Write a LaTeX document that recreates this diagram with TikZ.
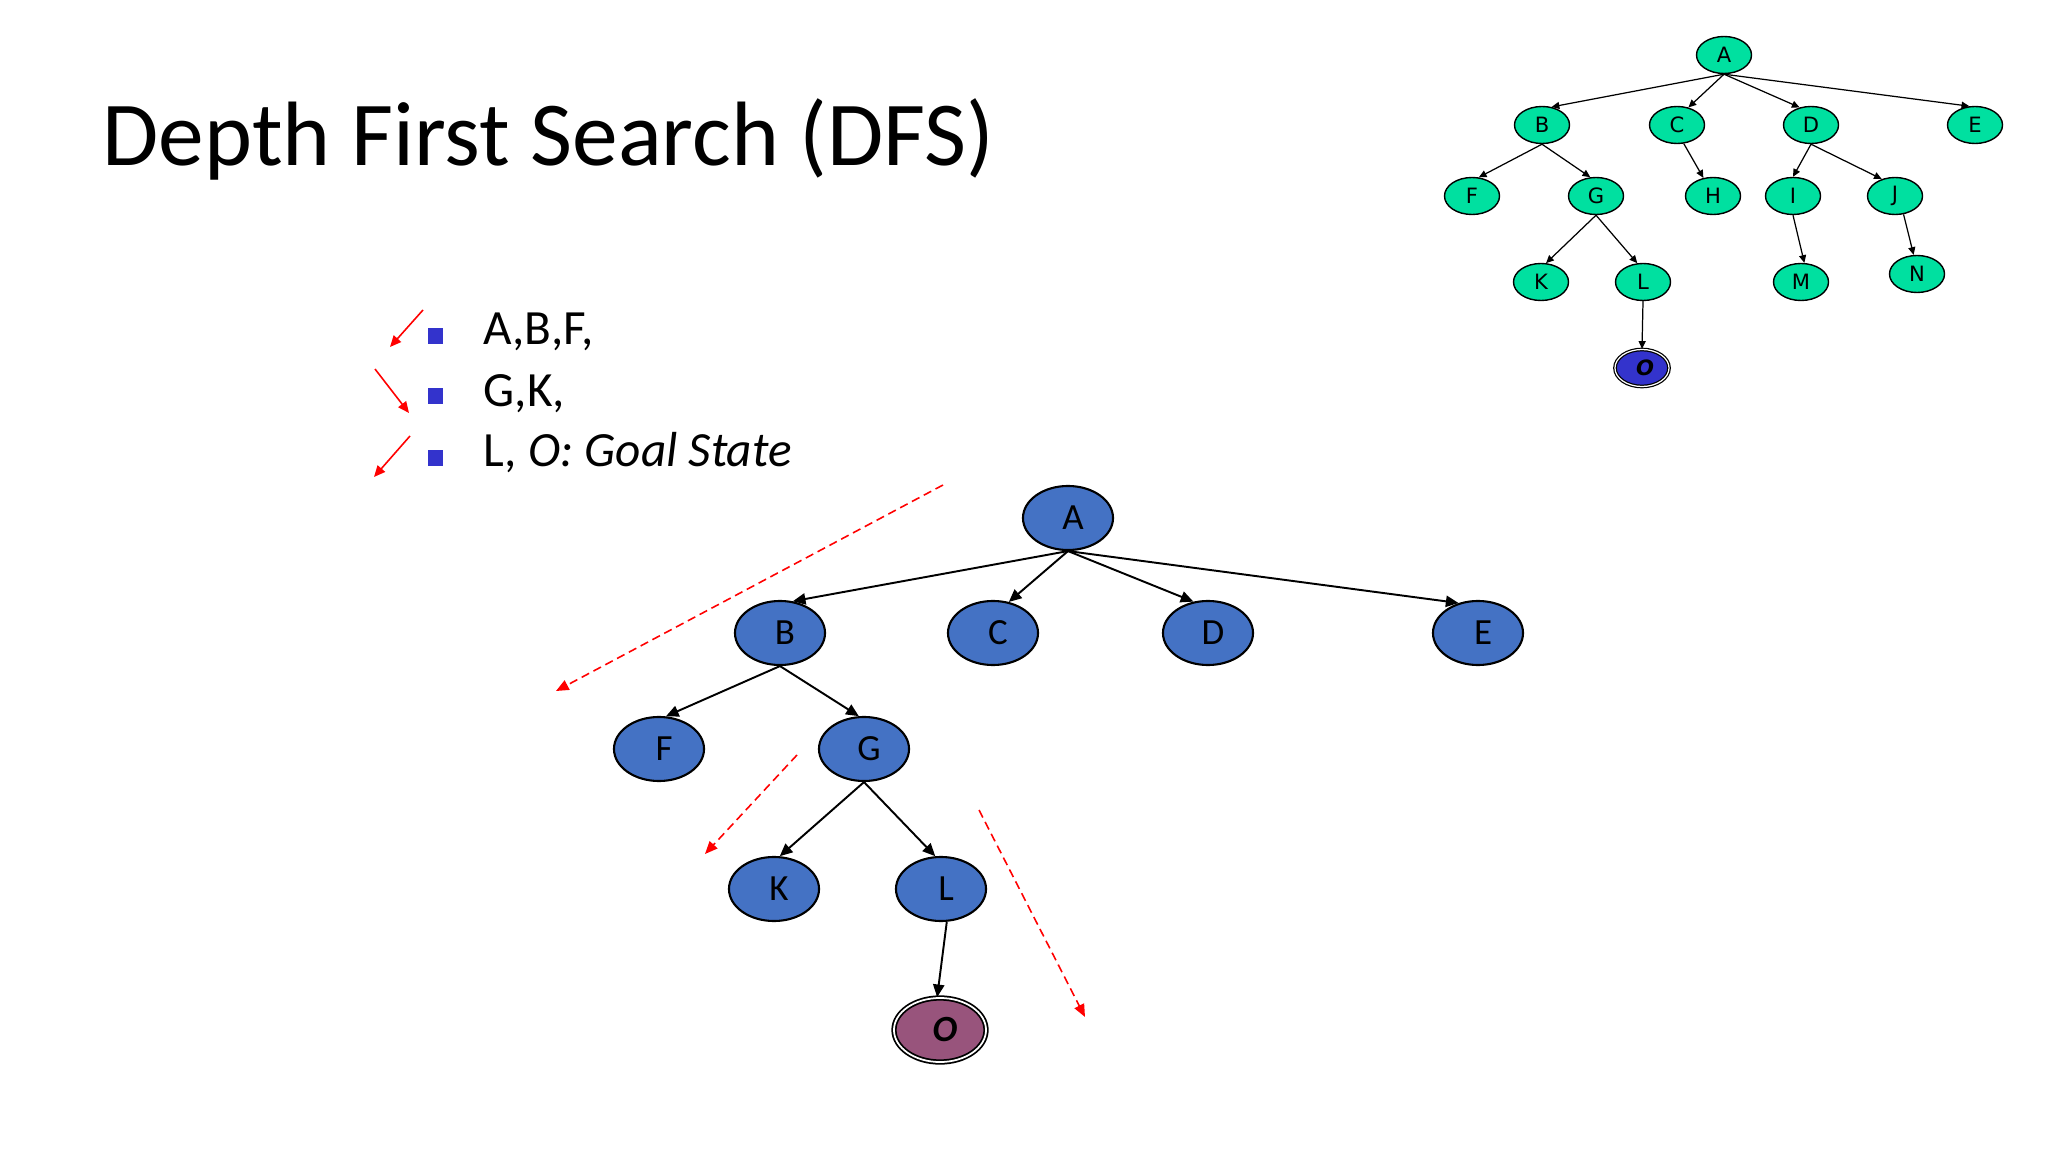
\documentclass[tikz,border=0pt]{standalone}
\usepackage{fontspec}
\setmainfont{Carlito}
\newfontfamily\treefont{DejaVu Sans}
\usetikzlibrary{arrows.meta,shapes.geometric}
\definecolor{bigblue}{RGB}{68,114,196}
\definecolor{goalpurple}{RGB}{152,84,124}
\definecolor{mint}{RGB}{0,224,160}
\definecolor{listblue}{RGB}{51,51,204}

\begin{document}
\begin{tikzpicture}[x=0.01cm,y=-0.01cm,
  bignode/.style={ellipse, draw, line width=0.6pt, fill=bigblue, inner sep=0pt,
    minimum width=0.9cm, minimum height=0.64cm,
    font=\fontsize{10.5}{12}\selectfont, execute at begin node=\hspace{0.1cm}},
  biggoal/.style={bignode, fill=goalpurple, line width=0.5pt, double=white,
    double distance=0.5pt, minimum width=0.92cm, minimum height=0.64cm,
    font=\fontsize{10.5}{12}\selectfont\bfseries\itshape},
  smallnode/.style={ellipse, draw, line width=0.4pt, fill=mint, inner sep=0pt,
    minimum width=0.55cm, minimum height=0.37cm, font=\treefont\fontsize{6}{7}\selectfont},
  smallgoal/.style={smallnode, fill=listblue, line width=0.35pt, double=white,
    double distance=0.35pt, minimum width=0.54cm, minimum height=0.37cm,
    font=\treefont\fontsize{6}{7}\selectfont\bfseries\itshape, execute at begin node=\hspace{0.06cm}},
  bigedge/.style={-{Triangle[length=3.6pt,width=3.2pt]}, line width=0.55pt},
  smalledge/.style={-{Triangle[length=2.2pt,width=2pt]}, line width=0.35pt},
  trace/.style={-{Triangle[length=3.6pt,width=3pt]}, red, line width=0.45pt, dash pattern=on 2.4pt off 1.4pt},
  marker/.style={-{Triangle[length=3.2pt,width=2.8pt]}, red, line width=0.45pt},
  listsq/.style={rectangle, fill=listblue, inner sep=0pt, minimum size=0.15cm},
  listtext/.style={anchor=base west, inner sep=0pt, font=\fontsize{14}{17}\selectfont}]
  \useasboundingbox (0,0) rectangle (2048,1152);

  % Title
  \node[anchor=base west, inner sep=0pt, font=\fontsize{26}{32}\selectfont] (title) at (102,166) {Depth First Search (DFS)};

  % List
  \node[listsq] (sq1) at (435,336) {};
  \node[listsq] (sq2) at (435,396) {};
  \node[listsq] (sq3) at (435,458) {};
  \node[listtext] (t1) at (483,345) {A,B,F,};
  \node[listtext] (t2) at (483,407) {G,K,};
  \node[listtext] (t3) at (483,467) {L, \textit{O: Goal State}};
  \coordinate (m1s) at (423,310);
  \coordinate (m1e) at (390,347);
  \coordinate (m2s) at (375,369);
  \coordinate (m2e) at (409,413);
  \coordinate (m3s) at (410,436);
  \coordinate (m3e) at (374,477);
  \draw[marker] (m1s) -- (m1e);
  \draw[marker] (m2s) -- (m2e);
  \draw[marker] (m3s) -- (m3e);

  % Small tree
  \node[smallnode] (sA) at (1724,55) {A};
  \node[smallnode] (sB) at (1542,125) {B};
  \node[smallnode] (sC) at (1677,125) {C};
  \node[smallnode] (sD) at (1811,125) {D};
  \node[smallnode] (sE) at (1975,125) {E};
  \node[smallnode] (sF) at (1472,196) {F};
  \node[smallnode] (sG) at (1596,196) {G};
  \node[smallnode] (sH) at (1713,196) {H};
  \node[smallnode] (sI) at (1793,196) {I};
  \node[smallnode] (sJ) at (1895,196) {J};
  \node[smallnode] (sK) at (1541,282) {K};
  \node[smallnode] (sL) at (1643,282) {L};
  \node[smallnode] (sM) at (1801,282) {M};
  \node[smallnode] (sN) at (1917,274) {N};
  \node[smallgoal] (sO) at (1642,368) {O};

  \foreach \p/\s/\c/\e in {A/270/B/62, A/270/C/57, A/270/D/123, A/270/E/107,
      B/270/F/70, B/270/G/107, C/290/H/118, D/270/I/90, D/270/J/128,
      G/270/K/75, G/270/L/107, I/270/M/80, J/295/N/100, L/270/O/90}
    \draw[smalledge] (s\p.\s) -- (s\c.\e);

  % Big tree
  \node[bignode] (A) at (1068,518) {A};
  \node[bignode] (B) at (780,633) {B};
  \node[bignode] (C) at (993,633) {C};
  \node[bignode] (D) at (1208,633) {D};
  \node[bignode] (E) at (1478,633) {E};
  \node[bignode] (F) at (659,749) {F};
  \node[bignode] (G) at (864,749) {G};
  \node[bignode] (K) at (774,889) {K};
  \node[bignode] (L) at (941,889) {L};
  \node[biggoal] (O) at (940,1030) {O};

  \foreach \p/\s/\c/\e in {A/270/B/68, A/270/C/63, A/270/D/115, A/270/E/123,
      B/270/F/78, B/270/G/99, G/270/K/80, G/270/L/100, L/280/O/95}
    \draw[bigedge] (\p.\s) -- (\c.\e);

  % Search order
  \coordinate (d1s) at (943,485);
  \coordinate (d1e) at (556,691);
  \coordinate (d2s) at (797,755);
  \coordinate (d2e) at (705,854);
  \coordinate (d3s) at (979,810);
  \coordinate (d3e) at (1085,1017);
  \draw[trace] (d1s) -- (d1e);
  \draw[trace] (d2s) -- (d2e);
  \draw[trace] (d3s) -- (d3e);
\end{tikzpicture}
\end{document}
